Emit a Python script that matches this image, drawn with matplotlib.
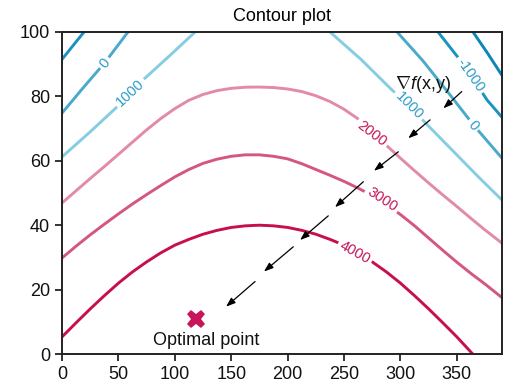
import numpy as np
import matplotlib
matplotlib.use("Agg")
import matplotlib.pyplot as plt

plt.rcParams['font.family'] = ['Liberation Sans', 'DejaVu Sans']
plt.rcParams['mathtext.fontset'] = 'custom'
plt.rcParams['mathtext.rm'] = 'Liberation Sans'
plt.rcParams['mathtext.it'] = 'Liberation Sans:italic'

# contour lines (x, y), one or two pieces per level
c_m2000_x = [364.3, 377, 390]
c_m2000_y = [100, 93.5, 86.5]

c_m1000_lx = [0, 19.5]
c_m1000_ly = [91.5, 100]
c_m1000_rx = [333.3, 352.8, 362, 376.7, 390]
c_m1000_ry = [100, 91.3, 86.8, 78.9, 73.5]

c_0_lx = [0, 18.6, 38, 58.5]
c_0_ly = [74.8, 82.6, 90.5, 100]
c_0_rx = [297, 320, 345, 365, 390]
c_0_ry = [100, 91, 80, 71, 60.8]

c_1000_lx = [0, 25, 48.7, 71.8, 95, 118]
c_1000_ly = [61.2, 69, 76.7, 85.1, 92.5, 100]
c_1000_rx = [237.5, 265, 290.7, 306.7, 317.3, 345, 370.5, 390]
c_1000_ry = [100, 91.5, 82.6, 77.3, 73.5, 63.6, 54.5, 47.8]

c_2000_x = [0, 12.5, 25, 37.5, 50, 62.5, 75, 87.5, 100, 112.5, 125, 137.5, 150, 162.5,
            175, 187.5, 200, 212.5, 225, 237.5, 250, 262.5, 275, 287.5, 300, 312.5,
            325, 337.5, 350, 362.5, 375, 390]
c_2000_y = [46.9, 50.7, 54.5, 58.2, 62.0, 65.8, 69.6, 73.1, 76.2, 78.8, 80.6, 81.8, 82.5, 82.85,
            82.9, 82.75, 82.3, 81.5, 80.2, 78.4, 76.0, 73.0, 69.0, 64.8, 60.8, 56.9,
            53.1, 49.4, 45.8, 42.1, 38.5, 34.4]

c_3000_x = [0, 12.5, 25, 37.5, 50, 62.5, 75, 87.5, 100, 112.5, 125, 137.5, 150, 162.5,
            175, 187.5, 200, 212.5, 225, 237.5, 250, 262.5, 275, 287.5, 300, 312.5,
            325, 337.5, 350, 362.5, 375, 390]
c_3000_y = [29.8, 33.5, 37.0, 40.3, 43.5, 46.6, 49.5, 52.3, 55.0, 57.3, 59.2, 60.5, 61.4, 61.85,
            61.85, 61.4, 60.6, 59.1, 57.3, 55.5, 53.6, 51.5, 49.2, 46.4, 43.3, 39.8,
            36.0, 32.2, 28.5, 25.0, 21.7, 17.5]

c_4000_x = [0, 12.5, 25, 37.5, 50, 62.5, 75, 87.5, 100, 112.5, 125, 137.5, 150, 162.5,
            175, 187.5, 200, 212.5, 225, 237.5, 250, 262.5, 275, 287.5, 300, 312.5,
            325, 337.5, 350, 364]
c_4000_y = [5.3, 9.7, 14.0, 18.1, 22.0, 25.5, 28.6, 31.4, 33.8, 35.6, 37.2, 38.4, 39.3, 39.8,
            40.0, 39.8, 39.3, 38.4, 37.2, 35.6, 33.8, 31.4, 28.6, 25.5, 22.0, 18.1,
            14.0, 9.7, 5.3, 0]

# contour labels: text, x, y, angle
lab_text = ['0', '1000', '2000', '3000', '4000', '1000', '0', '-1000']
lab_x = [38.1, 60.3, 274.8, 283.6, 259.7, 307.6, 364.3, 362.2]
lab_y = [90.3, 81.2, 68.5, 47.8, 31.6, 77.2, 71.0, 86.7]
lab_rot = [51, 43, -37, -33, -29, -45, -50, -55]

# gradient arrows (start x, start y, end x, end y)
arr_x0 = [354.3, 326.2, 298.1, 267.1, 236.0, 205.0, 171.1]
arr_y0 = [81.5, 72.7, 62.8, 53.5, 42.9, 33.3, 22.5]
arr_x1 = [338.0, 306.9, 276.5, 242.0, 211.0, 179.0, 145.4]
arr_y1 = [76.3, 67.0, 56.9, 45.6, 35.4, 25.6, 14.7]

opt_x, opt_y = 118.8, 11.0

col_m2000 = '#0b86b6'
col_m1000 = '#1b93c0'
col_0 = '#4aaacb'
col_1000 = '#86cde1'
col_2000 = '#e28aab'
col_3000 = '#d4577f'
col_4000 = '#c70f4e'
blue_txt = '#2a9cc6'
red_txt = '#c2135a'

fig = plt.figure(figsize=(5.14, 3.9), dpi=100)
ax = fig.add_axes([0.1206, 0.0923, 0.8561, 0.8257])

lw = 2.1
ax.plot(c_m2000_x, c_m2000_y, color=col_m2000, lw=lw)
ax.plot(c_m1000_lx, c_m1000_ly, color=col_m1000, lw=lw)
ax.plot(c_m1000_rx, c_m1000_ry, color=col_m1000, lw=lw)
ax.plot(c_0_lx, c_0_ly, color=col_0, lw=lw)
ax.plot(c_0_rx, c_0_ry, color=col_0, lw=lw)
ax.plot(c_1000_lx, c_1000_ly, color=col_1000, lw=lw)
ax.plot(c_1000_rx, c_1000_ry, color=col_1000, lw=lw)
ax.plot(c_2000_x, c_2000_y, color=col_2000, lw=lw)
ax.plot(c_3000_x, c_3000_y, color=col_3000, lw=lw)
ax.plot(c_4000_x, c_4000_y, color=col_4000, lw=lw)

for t, x, y, r in zip(lab_text, lab_x, lab_y, lab_rot):
    c = red_txt if t in ('2000', '3000', '4000') else blue_txt
    ax.text(x, y, t, rotation=r, rotation_mode='anchor', ha='center', va='center',
            fontsize=10.5, color=c, zorder=3,
            bbox=dict(facecolor='white', edgecolor='none', pad=2))

for x0, y0, x1, y1 in zip(arr_x0, arr_y0, arr_x1, arr_y1):
    ax.annotate('', xy=(x1, y1), xytext=(x0, y0),
                arrowprops=dict(arrowstyle='-|>,head_length=0.55,head_width=0.2',
                                color='black', lw=0.9, shrinkA=0, shrinkB=0),
                zorder=4)

ax.text(319.5, 83.6, r'$\nabla\mathit{f}\mathrm{(x{,}y)}$', ha='center', va='center',
        fontsize=13, color='#111111')

ax.plot([opt_x], [opt_y], marker='X', markersize=13, color='#c8145a',
        markeredgewidth=0, linestyle='none', zorder=5)
ax.text(127.4, 4.3, 'Optimal point', ha='center', va='center', fontsize=13, color='#111111')

ax.set_xlim(0, 390)
ax.set_ylim(0, 100)
ax.set_xticks(np.arange(0, 351, 50))
ax.set_yticks(np.arange(0, 101, 20))
ax.tick_params(direction='out', length=5, width=1.2, labelsize=13, colors='#111111')
for s in ax.spines.values():
    s.set_linewidth(1.4)
    s.set_color('#222222')
ax.set_title('Contour plot', fontsize=13, pad=8)

fig.savefig('out.png', dpi=100)
